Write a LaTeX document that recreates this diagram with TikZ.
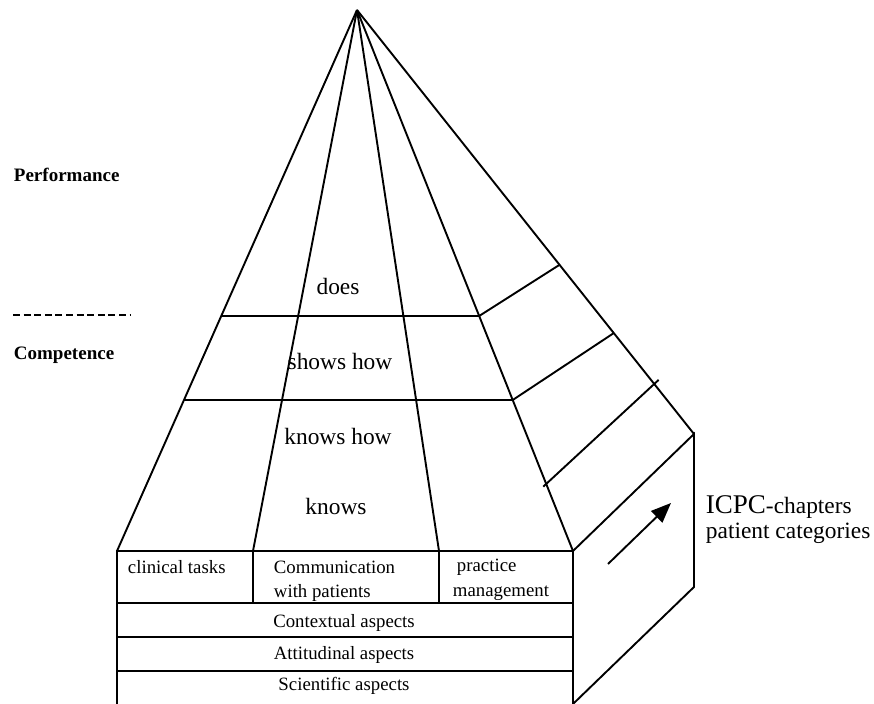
\documentclass[tikz,border=0pt]{standalone}
\usepackage{fontspec}
\setmainfont{Liberation Serif}
\usetikzlibrary{arrows.meta,calc}
\begin{document}
\begin{tikzpicture}[x=0.5pt,y=-0.5pt, line width=0.95pt,
  lvl/.style={font=\fontsize{11.7}{13}\selectfont, inner sep=0pt},
  small/.style={font=\fontsize{9.4}{11}\selectfont, inner sep=0pt},
  smallw/.style={small, anchor=west},
  side/.style={font=\bfseries\fontsize{9.5}{11}\selectfont, inner sep=0pt, anchor=west},
  icpc/.style={font=\fontsize{11.7}{13}\selectfont, inner sep=0pt, anchor=base west}]
\useasboundingbox (0,0) rectangle (874,704);
% pyramid points
\coordinate (apex) at (357,10);
\coordinate (bl) at (117,551);
\coordinate (b2) at (253,551);
\coordinate (b3) at (439,551);
\coordinate (br) at (573,551);
\coordinate (tr) at (694,434);
\coordinate (trb) at (694,587);
\coordinate (blb) at (117,704);
\coordinate (brb) at (573,704);
% pyramid edges
\draw (apex) -- (bl);
\draw (apex) -- (b2);
\draw (apex) -- (b3);
\draw (apex) -- (br);
\draw (apex) -- (tr);
% horizontal level lines
\coordinate (l1a) at ($(apex)!0.5656!(bl)$);
\coordinate (l1b) at ($(apex)!0.5656!(br)$);
\coordinate (l2a) at ($(apex)!0.7209!(bl)$);
\coordinate (l2b) at ($(apex)!0.7209!(br)$);
\draw (l1a) -- (l1b);
\draw (l2a) -- (l2b);
% right face lines
\coordinate (r1b) at ($(apex)!0.601!(tr)$);
\coordinate (r2b) at ($(apex)!0.762!(tr)$);
\coordinate (r3a) at ($(apex)!0.876!(br)$);
\coordinate (r3b) at ($(apex)!0.882!(tr)$);
\draw (l1b) -- (r1b);
\draw (l2b) -- (r2b);
\draw[shorten <=-2pt, shorten >=-3pt] (r3a) -- (r3b);
% side box
\draw (br) -- (tr) -- (trb) -- (brb);
% main box
\draw (blb) -- (bl) -- (br) -- (brb);
\draw (117,603) -- (573,603);
\draw (117,637) -- (573,637);
\draw (117,671) -- (573,671);
\draw (b2) -- (253,603);
\draw (b3) -- (439,603);
% arrow
\coordinate (arA) at (608,564);
\coordinate (arB) at (671,503);
\draw[-{Triangle[length=10pt,width=8pt]}] (arA) -- (arB);
% level texts
\node[lvl] (does) at (338,287) {does};
\node[lvl] (shows) at (340,362) {shows how};
\node[lvl] (khow) at (338,437) {knows how};
\node[lvl] (knows) at (336,507) {knows};
% box texts
\node[smallw] (clin) at (127,567) {clinical tasks};
\node[smallw] (comm1) at (273,567) {Communication};
\node[smallw] (comm2) at (273,593) {with patients};
\node[smallw] (prac1) at (456,567) {practice};
\node[smallw] (prac2) at (452,593) {management};
\node[small] (ctx) at (344,623) {Contextual aspects};
\node[small] (att) at (344,655) {Attitudinal aspects};
\node[small] (sci) at (344,686) {Scientific aspects};
% side labels
\node[icpc] (icpc) at (705,514) {{\fontsize{13.5}{15}\selectfont ICPC}-chapters};
\node[icpc] (pcat) at (705,539) {patient categories};
\node[side] (perf) at (13,175) {Performance};
\node[side] (comp) at (13,355) {Competence};
\coordinate (dA) at (13,315);
\coordinate (dB) at (130,315);
\draw[dash pattern=on 3.5pt off 1.8pt] (dA) -- (dB);
\end{tikzpicture}
\end{document}
